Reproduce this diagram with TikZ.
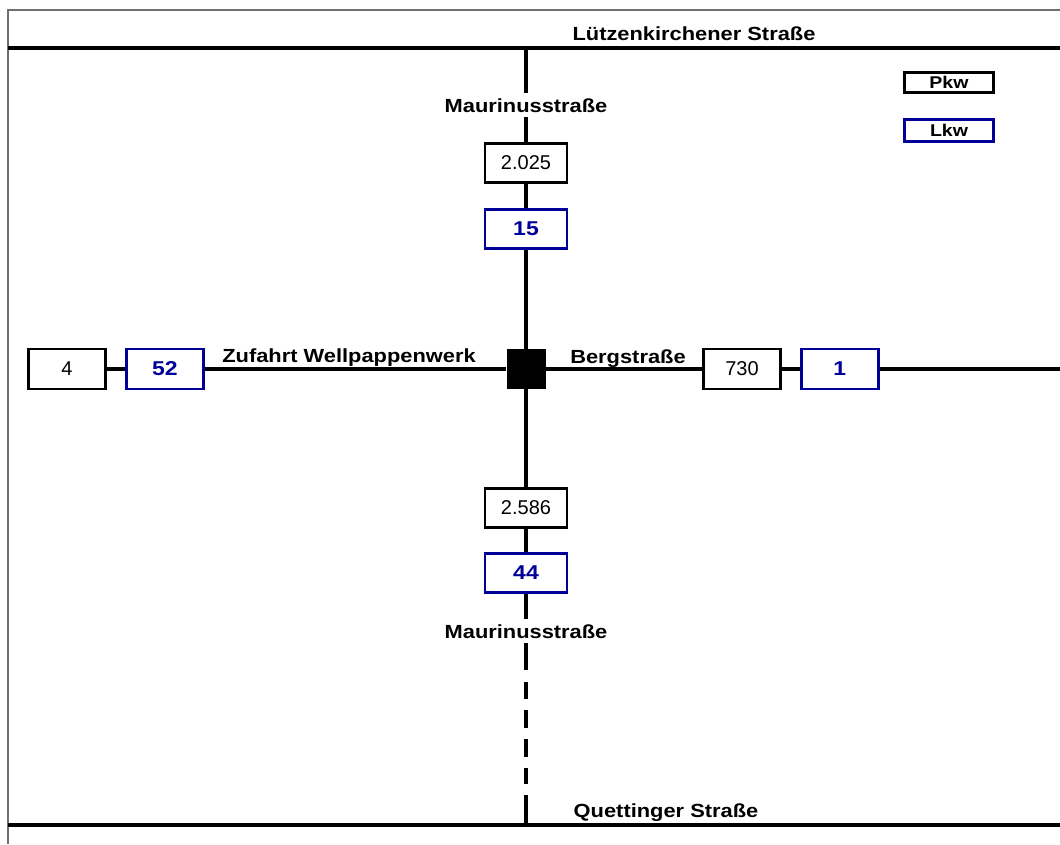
\documentclass[tikz,border=0pt]{standalone}
\usepackage{fontspec}
\setmainfont{Liberation Sans}
\newfontfamily\strfont{Liberation Sans}[FakeStretch=1.15]
\usetikzlibrary{positioning}
\definecolor{lkwblue}{HTML}{000099}
\definecolor{framegray}{HTML}{707070}
\tikzset{
    road/.style={
        line width=3.2pt, draw=black
    },
    roaddash/.style={
        road, dash pattern=on 27pt off 12pt on 17pt off 11pt on 18pt off 11pt on 18pt off 11pt on 16pt off 11pt on 30pt off 10pt
    },
    street/.style={
        font=\strfont\fontsize{19}{22}\selectfont\bfseries, inner sep=5pt, anchor=base
    },
    pkwbox/.style={
        rectangle, draw=black, fill=white, line width=2.8pt, inner sep=0pt,
        minimum width=82pt, minimum height=39pt, font=\fontsize{20}{24}\selectfont
    },
    lkwbox/.style={
        pkwbox, draw=lkwblue, text=lkwblue, font=\strfont\fontsize{20}{24}\selectfont\bfseries
    },
    hbox/.style={
        minimum width=77pt, minimum height=40pt
    },
    legendbox/.style={
        rectangle, draw=black, line width=3pt, inner sep=0pt,
        minimum width=89pt, minimum height=20pt, font=\strfont\fontsize{17}{20}\selectfont\bfseries
    },
    knot/.style={
        rectangle, fill=black, minimum width=39pt, minimum height=40pt, inner sep=0pt
    }
}

\begin{document}
\begin{tikzpicture}[x=1pt, y=-1pt]
    \useasboundingbox (0,0) rectangle (1060,844);
    \draw[framegray, line width=1.5pt] (8,844) -- (8,10) -- (1060,10);

    \draw[road] (8,48) -- (1060,48);
    \draw[road] (8,825) -- (1060,825);
    \coordinate (nN) at (526,48);
    \coordinate (nS) at (526,825);
    \coordinate (wE) at (1060,369);

    \node[street] (lzs) at (694,40) {Lützenkirchener Straße};
    \node[street] (qus) at (666,817) {Quettinger Straße};

    \node[knot] (k) at (526,369) {};

    \node[pkwbox] (pN) at (526,163) {2.025};
    \node[lkwbox] (lN) at (526,229) {15};
    \node[pkwbox] (pS) at (526,508) {2.586};
    \node[lkwbox] (lS) at (526,573) {44};

    \node[pkwbox, hbox] (pW) at (67,369) {4};
    \node[lkwbox, hbox, right=18pt of pW] (lW) {52};
    \node[pkwbox, hbox] (pE) at (742,369) {730};
    \node[lkwbox, hbox, right=18pt of pE] (lE) {1};

    \node[street] (mN) at (526,112) {Maurinusstraße};
    \node[street] (mS) at (526,638) {Maurinusstraße};
    \node[street] (zw) at (349,362) {Zufahrt Wellpappenwerk};
    \node[street] (bg) at (628,363) {Bergstraße};

    \draw[road] (nN) -- (mN);
    \draw[road] (mN) -- (pN);
    \draw[road] (pN) -- (lN);
    \draw[road] (lN) -- (k);
    \draw[road] (k) -- (pS);
    \draw[road] (pS) -- (lS);
    \draw[road] (lS) -- (mS);
    \draw[roaddash] (mS) -- (nS);

    \draw[road] (pW) -- (lW);
    \draw[road] (lW) -- (k);
    \draw[road] (k) -- (pE);
    \draw[road] (pE) -- (lE);
    \draw[road] (lE) -- (wE);

    \node[legendbox] (lgP) at (949,82) {Pkw};
    \node[legendbox, draw=lkwblue, minimum height=22pt] (lgL) at (949,130.5) {Lkw};
\end{tikzpicture}
\end{document}
